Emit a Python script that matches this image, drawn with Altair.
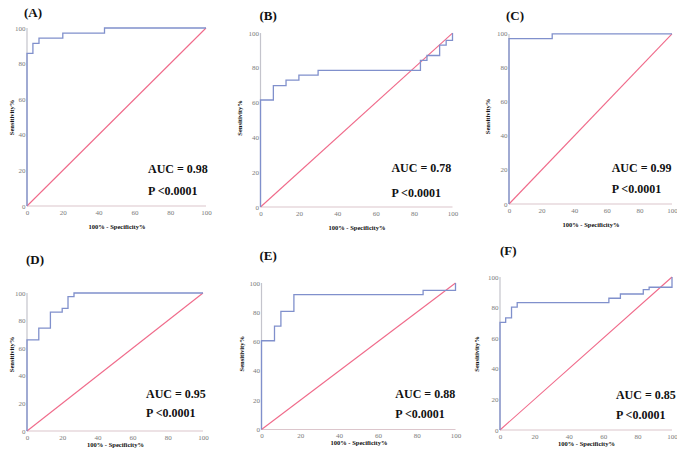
import altair as alt
import pandas as pd

# ROC corner points (x = 100% - Specificity%, y = Sensitivity%)
A_fpr = [0, 0, 3.3, 3.3, 6.7, 6.7, 20, 20, 43.3, 43.3, 100]
A_tpr = [0, 85.7, 85.7, 91.4, 91.4, 94.3, 94.3, 97.1, 97.1, 100, 100]

B_fpr = [0, 0, 6.7, 6.7, 13.3, 13.3, 20, 20, 30, 30, 83.3, 83.3, 86.7, 86.7, 93.3, 93.3, 96.7, 96.7, 100, 100]
B_tpr = [0, 61.5, 61.5, 69.8, 69.8, 72.9, 72.9, 75.8, 75.8, 78.5, 78.5, 84.3, 84.3, 87.1, 87.1, 93.0, 93.0, 95.8, 95.8, 100]

C_fpr = [0, 0, 26.5, 26.5, 100]
C_tpr = [0, 97.3, 97.3, 100, 100]

D_fpr = [0, 0, 6.7, 6.7, 13.3, 13.3, 20, 20, 23.3, 23.3, 26.7, 26.7, 100]
D_tpr = [0, 66.0, 66.0, 74.6, 74.6, 86.2, 86.2, 88.9, 88.9, 97.4, 97.4, 100, 100]

E_fpr = [0, 0, 6.7, 6.7, 10, 10, 16.7, 16.7, 83.3, 83.3, 100, 100]
E_tpr = [0, 60.6, 60.6, 70.6, 70.6, 80.6, 80.6, 92.1, 92.1, 95.0, 95.0, 100]

F_fpr = [0, 0, 3.3, 3.3, 6.7, 6.7, 10, 10, 63.3, 63.3, 70, 70, 83.3, 83.3, 86.7, 86.7, 100, 100]
F_tpr = [0, 70.4, 70.4, 73.3, 73.3, 80.3, 80.3, 83.3, 83.3, 86.1, 86.1, 88.9, 88.9, 91.7, 91.7, 93.3, 93.3, 100]

panel_labels = ["(A)", "(B)", "(C)", "(D)", "(E)", "(F)"]
auc_texts = ["AUC = 0.98", "AUC = 0.78", "AUC = 0.99", "AUC = 0.95", "AUC = 0.88", "AUC = 0.85"]
p_texts = ["P <0.0001"] * 6
text_x = [67.6, 68.2, 63.0, 67.6, 69.0, 67.4]
auc_y = [20.8, 22.4, 21.2, 26.7, 24.2, 23.1]
p_y = [8.4, 8.0, 8.8, 13.0, 10.5, 10.0]
tick_values = [0, 20, 40, 60, 80, 100]

x_title = "100% - Specificity%"
y_title = "Sensitivity%"

BLUE = "#8090cc"
PINK = "#f06a8a"
SERIF = "Liberation Serif"

# layout (plot sizes, domain extensions, title placement)
layout = {
    "A": dict(W=179, H=178, ymax=100.0, xpad=0, toff=4, tdx=-3, xtp=8, ytp=0),
    "B": dict(W=192, H=179, ymax=102.9, xpad=10, toff=5, tdx=-1, xtp=8, ytp=6),
    "C": dict(W=163, H=176, ymax=103.5, xpad=9, toff=5, tdx=-3, xtp=8, ytp=6),
    "D": dict(W=176, H=154, ymax=111.6, xpad=0, toff=10.5, tdx=-1, xtp=1, ytp=0),
    "E": dict(W=194, H=152.5, ymax=104.1, xpad=11, toff=14.5, tdx=-2, xtp=1, ytp=5),
    "F": dict(W=172, H=153, ymax=100.0, xpad=0, toff=15.5, tdx=0, xtp=1, ytp=8),
}


def panel(i, key, fpr, tpr):
    L = layout[key]
    ppu = L["W"] / 100.0
    xmin = -L["xpad"] / ppu
    width = L["W"] + L["xpad"]
    xs = alt.Scale(domain=[xmin, 100], nice=False, zero=False)
    ys = alt.Scale(domain=[0, L["ymax"]], nice=False, zero=False)
    xax = alt.Axis(values=tick_values, title=x_title, domain=False, ticks=False, grid=False,
                   labelFlush=False, labelOverlap=False, titlePadding=L["xtp"],
                   titleX=L["xpad"] + L["W"] / 2)
    yax = alt.Axis(values=tick_values, title=y_title, domain=False, ticks=False, grid=False,
                   labelFlush=False, labelOverlap=False, titlePadding=L["ytp"],
                   offset=-L["xpad"])

    def X(f):
        return alt.X(f, type="quantitative", scale=xs, axis=xax)

    def Y(f):
        return alt.Y(f, type="quantitative", scale=ys, axis=yax)

    yaxis_df = pd.DataFrame({"x": [0], "y": [0], "y2": [100]})
    xaxis_df = pd.DataFrame({"x": [0], "x2": [100], "y": [0]})
    diag_df = pd.DataFrame({"x": [0, 100], "y": [0, 100], "o": [0, 1]})
    roc_df = pd.DataFrame({"x": fpr, "y": tpr, "o": list(range(len(fpr)))})
    txt_df = pd.DataFrame({"x": [text_x[i], text_x[i]], "y": [auc_y[i], p_y[i]],
                           "t": [auc_texts[i], p_texts[i]]})

    yrule = alt.Chart(yaxis_df).mark_rule(color="#c4c4cc", strokeWidth=1.2).encode(
        x=X("x"), y=Y("y"), y2="y2")
    xrule = alt.Chart(xaxis_df).mark_rule(color="#dcc6cc", strokeWidth=1.2).encode(
        x=X("x"), x2="x2", y=Y("y"))
    diag = alt.Chart(diag_df).mark_line(color=PINK, strokeWidth=1.1).encode(
        x=X("x"), y=Y("y"), order="o:Q")
    roc = alt.Chart(roc_df).mark_line(color=BLUE, strokeWidth=1.3).encode(
        x=X("x"), y=Y("y"), order="o:Q")
    txt = alt.Chart(txt_df).mark_text(align="left", baseline="middle", font=SERIF,
                                      fontWeight="bold", fontSize=12, color="#111111").encode(
        x=X("x"), y=Y("y"), text="t:N")

    return alt.layer(yrule, xrule, diag, roc, txt).properties(
        width=width, height=L["H"],
        title=alt.TitleParams(text=panel_labels[i], anchor="start", offset=L["toff"],
                              dx=L["tdx"] + L["xpad"], frame="group"),
    )


panels = [
    panel(0, "A", A_fpr, A_tpr),
    panel(1, "B", B_fpr, B_tpr),
    panel(2, "C", C_fpr, C_tpr),
    panel(3, "D", D_fpr, D_tpr),
    panel(4, "E", E_fpr, E_tpr),
    panel(5, "F", F_fpr, F_tpr),
]

chart = alt.concat(
    *panels, columns=3, bounds="flush",
    spacing={"row": 70, "column": 44.5},
    align={"row": "each", "column": "none"},
).properties(
    autosize=alt.AutoSizeParams(type="none"),
    padding={"left": 19, "top": 20, "right": 650, "bottom": 420},
    background="white",
).configure_view(stroke=None).configure_axis(
    labelFont=SERIF, labelFontSize=7, labelColor="#7a7a7a", labelPadding=2,
    titleFont=SERIF, titleFontSize=6.5, titleFontWeight="bold", titleColor="#111111",
).configure_title(
    font=SERIF, fontSize=13, fontWeight="bold", color="#111111"
)

chart.save("out.html", embed_options={"renderer": "svg", "actions": False})
